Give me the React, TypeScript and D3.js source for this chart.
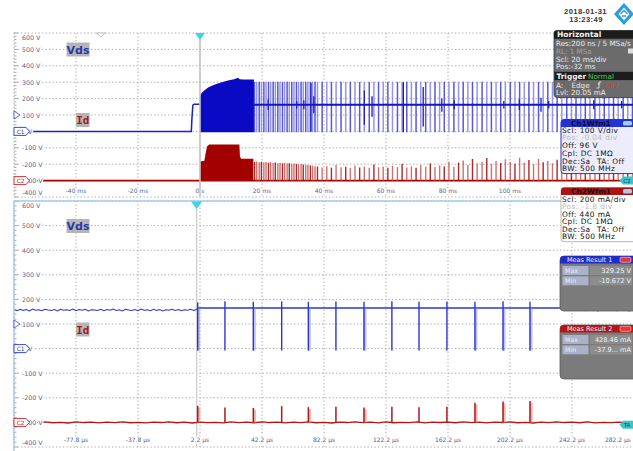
import React from 'react';
import * as d3 from 'd3';

// ---------------- data ----------------
const voltTicks = [600, 500, 400, 300, 200, 100, 0, -100, -200, -300, -400];
const voltLabels = ['600 V', '500 V', '400 V', '300 V', '200 V', '100 V', '0 V', '-100 V', '-200 V', '-300 V', '-400 V'];
const topTimeTicks = [-60, -40, -20, 0, 20, 40, 60, 80, 100, 120, 140];
const topTimeLabels = ['', '-40 ms', '-20 ms', '0 s', '20 ms', '40 ms', '60 ms', '80 ms', '100 ms', '', ''];
const botTimeTicks = [-117.8, -77.8, -37.8, 2.2, 42.2, 82.2, 122.2, 162.2, 202.2, 242.2, 282.2];
const botTimeLabels = ['', '-77.8 µs', '-37.8 µs', '2.2 µs', '42.2 µs', '82.2 µs', '122.2 µs', '162.2 µs', '202.2 µs', '242.2 µs', '282.2 µs'];

// top panel (ms), Vds in V
const vdsPreT = [-60, -2.8, -2.6, -2.3, -1.9, 0];
const vdsPreV = [0, 0, 80, 160, 166, 166];
const vdsEnvT = [0, 0.3, 1, 2, 2.6, 4, 5.5, 7, 9, 11, 12.3, 12.8, 14, 17.4];
const vdsEnvTop = [213, 228, 243, 258, 268, 280, 290, 300, 310, 318, 327, 318, 317, 316];
const vdsEnvBottom = -5;
const burstVdsTop = 302;
const burstVdsBottom = -5;
const vdsMidLevel = 163;
const burstT = [
  17.6, 18.3, 19.1, 19.8, 20.6, 21.3, 22.1, 22.8, 23.6, 24.3, 25.1, 25.8, 26.6, 27.3, 28.1, 28.8, 29.6, 30.3, 31.1, 31.8, 32.6, 33.3, 34.1, 34.8, 35.6, 36.3, 37.1, 37.9,
  39.4, 40.9, 42.4, 43.9, 45.5, 47.0, 48.5, 50.0, 51.5, 53.0,
  54.6, 56.1, 57.6, 59.1, 60.6, 62.1, 63.7, 65.2, 66.7, 68.2,
  69.7, 71.2, 72.8, 74.3, 75.8, 77.3, 78.8, 80.3, 81.9, 83.4,
  84.9, 86.4, 87.9, 89.4, 91.0, 92.5, 94.0, 95.5, 97.0, 98.5,
  100.1, 101.6, 103.1, 104.6, 106.1, 107.6, 109.2, 110.7, 112.2, 113.7,
  115.2, 116.7, 118.3, 119.8, 121.3, 122.8, 124.3, 125.8, 127.4, 128.9,
  130.4, 131.9, 133.4, 134.9, 136.5, 138.0, 139.5,
];
// top Id (mA)
const idEnvT = [0, 0.05, 1.4, 1.8, 2.3, 3.0, 12.7, 12.9, 13.3, 17.2];
const idEnvTop = [0, 236, 240, 330, 420, 440, 440, 290, 265, 265];
const burstId = [
  228, 232, 224, 230, 221, 227, 218, 225, 216, 222, 213, 219, 210, 215, 208, 212, 205, 210, 204, 199, 203, 196, 193, 189, 185, 180, 176, 172,
  160, 175, 158, 190, 162, 170, 155, 185, 160, 168,
  158, 195, 162, 172, 156, 180, 165, 205, 160, 175,
  158, 190, 170, 210, 165, 185, 172, 230, 168, 220,
  245, 190, 265, 210, 230, 275, 200, 240, 215, 260,
  230, 205, 280, 220, 250, 200, 265, 225, 240, 210,
  255, 200, 230, 215, 245, 205, 225, 195, 235, 210,
  220, 200, 240, 210, 225, 205, 215,
];
const darkT = [22.0, 31.2, 33.5, 35.8, 36.7, 53.0, 55.5, 65.6, 72.0, 78.0, 82.0, 98.0, 103.0, 110.0, 112.5, 127.0, 136.0];
const darkLo = [130, 140, 135, 0, 110, 40, 90, -5, 30, 120, 135, 140, 130, 120, 140, 135, 140];
const darkHi = [195, 185, 190, 295, 215, 250, 215, 300, 270, 200, 190, 185, 195, 205, 185, 190, 185];

// bottom panel (µs)
const vdsNoiseT0 = -117.8;
const vdsNoiseDt = 2;
const vdsPreNoise = [
  158, 154, 160, 155, 159, 153, 161, 156, 158, 154,
  160, 157, 155, 159, 153, 160, 156, 158, 155, 161,
  154, 159, 156, 160, 153, 158, 157, 155, 160, 154,
  159, 156, 161, 155, 158, 153, 160, 157, 155, 159,
  154, 161, 156, 158, 154, 160, 155, 159, 153, 158,
  156, 160, 155, 159, 154, 158, 156, 160, 155, 160,
];
const vdsPostLevel = 165;
const vdsPostEnd = 245;
const vdsTail = [160, 156, 159, 154, 160, 155, 158, 153, 159, 156, 161, 155, 158, 154, 160, 156, 159, 153, 158, 156];
const spikeT = [0.7, 18.3, 36.6, 54.9, 72.1, 89.9, 108.0, 126.0, 143.5, 161.5, 179.6, 197.7, 215.1];
const spikeHi = [188, 192, 190, 192, 190, 191, 190, 192, 190, 191, 190, 192, 190];
const spikeLow = -8;
const spikeId = [135, 122, 118, 132, 124, 127, 122, 128, 124, 127, 160, 170, 175];
const spikeShade = [1, 0, 1, 0, 1, 0, 1, 0, 0, 0, 1, 1, 1];
const idNoiseT0 = -117.8;
const idNoiseDt = 5;
const idNoise = [
  2, -4, 3, -2, 5, -3, 1, -5, 4, -1,
  3, -4, 2, -2, 5, -3, 0, -4, 3, -1,
  4, -3, 2, -5, 3, -2, 1, -4, 4, -2,
  3, -3, 5, -1, 2, -4, 3, -2, 4, -3,
  1, -5, 3, -1, 4, -2, 2, -4, 5, -3,
  1, -2, 4, -4, 2, -1, 3, -3, 5, -2,
  2, -4, 3, -1, 4, -3, 1, -5, 3, -2,
  4, -1, 2, -3, 5, -4, 1, -2, 3, -3,
  2,
];

// info panels
const horizLines = ['Res:200 ns / 5 MSa/s', 'RL: 1 MSa', 'Scl: 20 ms/div', 'Pos:-32 ms'];
const ch1Lines = ['Scl: 100 V/div', 'Pos: -0.04 div', 'Off: 96 V', 'Cpl: DC 1MΩ', 'Dec:Sa', 'BW: 500 MHz'];
const ch2Lines = ['Scl: 200 mA/div', 'Pos: -1.8 div', 'Off: 440 mA', 'Cpl: DC 1MΩ', 'Dec:Sa', 'BW: 500 MHz'];
const meas1 = [['Max', '329.25 V'], ['Min', '-10.672 V']];
const meas2 = [['Max', '428.46 mA'], ['Min', '-37.9... mA']];

const FONT = "'DejaVu Sans', Verdana, sans-serif";
const idV = (mA: number) => -300 + mA / 2; // Ch2: 200 mA/div, zero at -3 div

export default function App() {
  const xT = d3.scaleLinear().domain([-60, 140]).range([14, 634]);
  const yT = d3.scaleLinear().domain([-400, 600]).range([197, 33]);
  const xB = d3.scaleLinear().domain([-117.8, 282.2]).range([14, 634]);
  const yB = d3.scaleLinear().domain([-400, 600]).range([447, 201]);

  const lineT = d3.line<[number, number]>().x(d => xT(d[0])).y(d => yT(d[1]));
  const lineB = d3.line<[number, number]>().x(d => xB(d[0])).y(d => yB(d[1]));

  const vdsPre = lineT(vdsPreT.map((t, i) => [t, vdsPreV[i]] as [number, number]))!;
  const vdsEnv = d3.area<number>()
    .x((_, i) => xT(vdsEnvT[i]))
    .y0(yT(vdsEnvBottom))
    .y1(d => yT(d))(vdsEnvTop)!;
  const idEnv = d3.area<number>()
    .x((_, i) => xT(idEnvT[i]))
    .y0(yT(idV(0)))
    .y1(d => yT(idV(d)))(idEnvTop)!;

  const botPre = lineB(vdsPreNoise.map((v, i) => [vdsNoiseT0 + i * vdsNoiseDt, v] as [number, number]))!;
  const botTail = lineB(vdsTail.map((v, i) => [vdsPostEnd + i * 2, v] as [number, number]))!;
  const botIdLine = lineB(idNoise.map((v, i) => [idNoiseT0 + i * idNoiseDt, idV(v)] as [number, number]))!;

  const gridColor = '#a8a8a8';
  const labelColor = '#56618f';

  const grid = (
    xs: d3.ScaleLinear<number, number>, ys: d3.ScaleLinear<number, number>, ticks: number[], key: string,
  ) => {
    const out: React.ReactNode[] = [];
    voltTicks.forEach(v => out.push(
      <line key={key + 'h' + v} x1={14} x2={634} y1={ys(v)} y2={ys(v)} stroke={gridColor} strokeWidth={1} strokeDasharray="1.3 2.2" />,
    ));
    ticks.forEach(t => out.push(
      <line key={key + 'v' + t} x1={xs(t)} x2={xs(t)} y1={ys(600)} y2={ys(-400)} stroke={gridColor} strokeWidth={1} strokeDasharray="1.3 2.2" />,
    ));
    for (let k = 0; k <= 50; k++) {
      const yy = ys(-400 + k * 20);
      out.push(<line key={key + 'm' + k} x1={14} x2={k % 5 === 0 ? 18 : 16.5} y1={yy} y2={yy} stroke="#9a9a9a" strokeWidth={0.8} />);
    }
    return out;
  };

  const yLabels = (ys: d3.ScaleLinear<number, number>, topY: number, botY: number, key: string) =>
    voltTicks.map((v, i) => (
      <text key={key + 'yl' + v} x={22} y={i === 0 ? topY : i === voltTicks.length - 1 ? botY : ys(v)}
        dominantBaseline="central" fontSize={6.3} fill={labelColor}
        stroke="#fff" strokeWidth={2.5} paintOrder="stroke">{voltLabels[i]}</text>
    ));

  const xLabels = (xs: d3.ScaleLinear<number, number>, ticks: number[], labels: string[], yy: number, key: string) =>
    ticks.map((t, i) => labels[i] ? (
      <text key={key + 'xl' + i} x={i === ticks.length - 1 ? 631 : xs(t)} y={yy}
        textAnchor={i === ticks.length - 1 ? 'end' : 'middle'} dominantBaseline="central"
        fontSize={6} fill={labelColor} stroke="#fff" strokeWidth={2.5} paintOrder="stroke">{labels[i]}</text>
    ) : null);

  const chMarker = (y: number, label: string, color: string, key: string) => (
    <g key={key}>
      <path d={`M14,${y - 4} h12 l3.5,4 l-3.5,4 h-12 z`} fill="#fff" stroke={color} strokeWidth={0.9} />
      <text x={20.5} y={y + 0.3} textAnchor="middle" dominantBaseline="central" fontSize={5.8} fill={color}>{label}</text>
    </g>
  );

  const trigLevelMarker = (y: number, key: string) => (
    <path key={key} d={`M14,${y - 4} l6,4 l-6,4 z`} fill="#fff" stroke="#3344cc" strokeWidth={0.8} />
  );

  const rightBadge = (y: number, label: string, key: string) => (
    <g key={key}>
      <path d={`M634,${y - 4} h-11 l-3.5,4 l3.5,4 h11 z`} fill="#3cc4c8" />
      <text x={627} y={y + 0.3} textAnchor="middle" dominantBaseline="central" fontSize={5.5} fill="#0b4c55">{label}</text>
    </g>
  );

  const nameTag = (x: number, y: number, w: number, h: number, text: string, color: string, mono: boolean, key: string) => (
    <g key={key}>
      <rect x={x} y={y} width={w} height={h} fill="#b5b5b5" />
      <text x={x + w / 2} y={y + h / 2 + 0.5} textAnchor="middle" dominantBaseline="central" fontSize={11}
        fontWeight="bold" fill={color} fontFamily={mono ? "'DejaVu Sans Mono', monospace" : FONT}>{text}</text>
    </g>
  );

  const wfmBox = (y0: number, title: string, headColor: string, bodyFill: string, border: string, lines: string[], ys: number[], key: string) => (
    <g key={key}>
      <rect x={561} y={y0} width={80} height={ys[ys.length - 1] - y0 + 5} rx={3} fill={bodyFill} stroke={border} strokeWidth={1} />
      <path d={`M561,${y0 + 7.5} v-4.5 a3,3 0 0 1 3,-3 h77 v7.5 z`} fill={headColor} />
      <text x={591} y={y0 + 3.9} textAnchor="middle" dominantBaseline="central" fontSize={7.4} fontWeight="bold" fill="#1a1010">{title}</text>
      <rect x={623} y={y0 + 1.5} width={9} height={4.5} rx={1.5} fill="#a8cdf2" />
      {lines.map((l, i) => (
        <text key={i} x={562} y={ys[i]} dominantBaseline="central" fontSize={7.4} letterSpacing={0.4}
          fill={i === 1 ? '#b8b8b8' : '#111'}>{l}</text>
      ))}
      <text x={597} y={ys[4]} dominantBaseline="central" fontSize={7.4} letterSpacing={0.4} fill="#111">TA: Off</text>
    </g>
  );

  const measBox = (y0: number, y1: number, title: string, headColor: string, rows: string[][], key: string) => (
    <g key={key}>
      <rect x={560} y={y0} width={80} height={y1 - y0} rx={4} fill="#7b7b7b" stroke="#5a5a5a" strokeWidth={0.8} />
      <path d={`M560,${y0 + 7.5} v-3.5 a4,4 0 0 1 4,-4 h76 v7.5 z`} fill={headColor} />
      <text x={567} y={y0 + 4} dominantBaseline="central" fontSize={6.5} fill="#f4f4ff">{title}</text>
      <rect x={620} y={y0 + 1.3} width={11} height={5} rx={1.2} fill="#e33" stroke="#fff" strokeWidth={0.5} />
      {rows.map((r, i) => {
        const ry = y0 + 10 + i * 10.3;
        return (
          <g key={i}>
            <rect x={562.5} y={ry} width={26} height={9} fill="#aab2ca" />
            <rect x={590} y={ry} width={42} height={9} fill="#8c8c8c" />
            <text x={565} y={ry + 4.6} dominantBaseline="central" fontSize={6.3} fill="#e8ecf8">{r[0]}</text>
            <text x={631} y={ry + 4.6} textAnchor="end" dominantBaseline="central" fontSize={6.6} fill="#f2f2f2">{r[1]}</text>
          </g>
        );
      })}
    </g>
  );

  return (
    <svg width={633} height={451} style={{ position: 'absolute', left: 0, top: 0, background: '#fff' }} fontFamily={FONT}>
      <defs>
        <clipPath id="clipTop"><rect x={14} y={33} width={620} height={164} /></clipPath>
        <clipPath id="clipBot"><rect x={14} y={201} width={620} height={246} /></clipPath>
      </defs>
      <rect x={0} y={0} width={633} height={451} fill="#fff" />

      {/* header: date & logo */}
      <text x={585.5} y={11.3} textAnchor="middle" dominantBaseline="central" fontSize={7.6} fontWeight="bold" fill="#333" fontFamily="'Liberation Sans', Arial, sans-serif" letterSpacing={0.4}>2018-01-31</text>
      <text x={586} y={19} textAnchor="middle" dominantBaseline="central" fontSize={7.6} fontWeight="bold" fill="#333" fontFamily="'Liberation Sans', Arial, sans-serif" letterSpacing={0.4}>13:23:49</text>
      <polygon points="624,3 634,14 624,25 614,14" fill="#2a9be2" />
      <polygon points="624,7.5 629.5,14 624,20.5 618.5,14" fill="#fff" />
      <path d="M620.5,14 L624,10.5 L627.5,14 M622,16 L626,16" stroke="#2a9be2" strokeWidth={1.3} fill="none" />

      {/* ---------- top panel ---------- */}
      {grid(xT, yT, topTimeTicks, 't')}
      <g clipPath="url(#clipTop)">
        {/* Vds */}
        <path d={vdsPre} fill="none" stroke="#1a22c8" strokeWidth={1.5} />
        {burstT.map((t, i) => (
          <line key={'bv' + i} x1={xT(t)} x2={xT(t)} y1={yT(burstVdsTop)} y2={yT(burstVdsBottom)}
            stroke={i % 2 === 0 ? '#4646da' : '#8a8aea'} strokeWidth={1.5} opacity={0.9} />
        ))}
        <path d={vdsEnv} fill="#0a0ac4" />
        <line x1={xT(17.4)} x2={xT(140)} y1={yT(vdsMidLevel)} y2={yT(vdsMidLevel)} stroke="#1515c0" strokeWidth={2} />
        {darkT.map((t, i) => (
          <line key={'dk' + i} x1={xT(t)} x2={xT(t)} y1={yT(darkHi[i])} y2={yT(darkLo[i])} stroke="#1a1ab8" strokeWidth={1.3} />
        ))}
        {/* Id */}
        <line x1={xT(-60)} x2={xT(140)} y1={yT(idV(0))} y2={yT(idV(0))} stroke="#a80000" strokeWidth={1.6} />
        {burstT.map((t, i) => (
          <line key={'bi' + i} x1={xT(t)} x2={xT(t)} y1={yT(idV(burstId[i]))} y2={yT(idV(0))}
            stroke={i % 3 === 0 ? '#a81010' : '#c86262'} strokeWidth={1.4} opacity={0.9} />
        ))}
        <path d={idEnv} fill="#a30000" />
      </g>
      {yLabels(yT, 37, 192, 't')}
      {xLabels(xT, topTimeTicks, topTimeLabels, 190, 't')}
      <line x1={xT(0)} x2={xT(0)} y1={33} y2={197} stroke="#c4c4c4" strokeWidth={1.6} />
      <polygon points={`${xT(-32) - 4.5},33 ${xT(-32) + 4.5},33 ${xT(-32)},37`} fill="#fff" stroke="#b0b0b0" strokeWidth={0.8} />
      <polygon points={`${xT(0) - 5},33 ${xT(0) + 5},33 ${xT(0)},40`} fill="#38d6e6" />
      {trigLevelMarker(yT(100), 'tl1')}
      {chMarker(yT(0), 'C1', '#2a36c8', 'c1t')}
      {chMarker(yT(-300), 'C2', '#c42020', 'c2t')}
      {rightBadge(yT(-300), 'C2', 'rbt')}
      {nameTag(66.5, 42.5, 23, 14, 'Vds', '#2a38a8', false, 'vdsT')}
      {nameTag(76, 113, 13.5, 14, 'Id', '#a81818', true, 'idT')}

      {/* ---------- bottom panel ---------- */}
      {grid(xB, yB, botTimeTicks, 'b')}
      <g clipPath="url(#clipBot)">
        <line x1={xB(0)} x2={xB(0)} y1={201} y2={447} stroke="#cfcfcf" strokeWidth={1.4} />
        {/* Vds */}
        <path d={botPre} fill="none" stroke="#2a36d0" strokeWidth={1.1} />
        <line x1={xB(0.2)} x2={xB(vdsPostEnd)} y1={yB(vdsPostLevel)} y2={yB(vdsPostLevel)} stroke="#2a36d0" strokeWidth={1.3} />
        <path d={botTail} fill="none" stroke="#2a36d0" strokeWidth={1.1} />
        {spikeT.map((t, i) => (
          <g key={'sv' + i}>
            {spikeShade[i] ? <rect x={xB(t) - 0.5} y={yB(vdsPostLevel)} width={3} height={yB(spikeLow) - yB(vdsPostLevel)} fill="#8c92ea" opacity={0.55} /> : null}
            <line x1={xB(t)} x2={xB(t)} y1={yB(spikeHi[i])} y2={yB(spikeLow)} stroke="#2a36d0" strokeWidth={1.4} />
          </g>
        ))}
        {/* Id */}
        <path d={botIdLine} fill="none" stroke="#b01818" strokeWidth={1.3} />
        {spikeT.map((t, i) => (
          <g key={'si' + i}>
            {spikeShade[i] ? <rect x={xB(t) - 0.3} y={yB(idV(spikeId[i] - 15))} width={3} height={yB(idV(0)) - yB(idV(spikeId[i] - 15))} fill="#e49a9a" opacity={0.7} /> : null}
            <line x1={xB(t)} x2={xB(t)} y1={yB(idV(spikeId[i]))} y2={yB(idV(0))} stroke="#b01818" strokeWidth={1.5} />
          </g>
        ))}
      </g>
      {yLabels(yB, 205.6, 442.2, 'b')}
      {xLabels(xB, botTimeTicks, botTimeLabels, 439.5, 'b')}
      <line x1={14} x2={634} y1={201} y2={201} stroke="#a6cdf0" strokeWidth={1.5} />
      <line x1={14} x2={14} y1={201} y2={451} stroke="#a6cdf0" strokeWidth={1.5} />
      <polygon points={`${xB(0) - 5.5},201.5 ${xB(0) + 5.5},201.5 ${xB(0)},209`} fill="#38d6e6" />
      {trigLevelMarker(yB(100), 'tl2')}
      {chMarker(yB(0), 'C1', '#2a36c8', 'c1b')}
      {chMarker(yB(-300), 'C2', '#c42020', 'c2b')}
      {rightBadge(yB(-310), 'TA', 'rbb')}
      {nameTag(66.5, 219, 23, 14, 'Vds', '#2a38a8', false, 'vdsB')}
      {nameTag(76, 322.5, 13.5, 14, 'Id', '#a81818', true, 'idB')}

      {/* ---------- info boxes ---------- */}
      <g>
        <rect x={554} y={30.5} width={82} height={67} rx={3} fill="#6b6b6b" stroke="#3a3a3a" strokeWidth={0.8} />
        <path d="M554,38.8 v-5.3 a3,3 0 0 1 3,-3 h79 v8.3 z" fill="#1c1c1c" />
        <text x={557} y={34.8} dominantBaseline="central" fontSize={7.6} fontWeight="bold" fill="#f4f4f4">Horizontal</text>
        {horizLines.map((l, i) => (
          <text key={'hz' + i} x={556} y={[43.3, 51.5, 59.3, 66.8][i]} dominantBaseline="central" fontSize={7.2}
            fill={i === 1 ? '#a2a2a2' : '#ececec'}>{l}</text>
        ))}
        <rect x={628} y={48.5} width={5} height={5} fill="#ddd" />
        <rect x={554.5} y={71.8} width={80} height={8.3} fill="#1c1c1c" />
        <text x={556.5} y={76} dominantBaseline="central" fontSize={7.4} fontWeight="bold" fill="#f4f4f4">Trigger</text>
        <text x={588} y={76} dominantBaseline="central" fontSize={7.2} fill="#4cd04c">Normal</text>
        <text x={556} y={85.3} dominantBaseline="central" fontSize={7.2} fill="#ececec">A:</text>
        <text x={571.5} y={85.3} dominantBaseline="central" fontSize={7.2} fill="#ececec">Edge</text>
        <path d="M596.5,88 h2.5 v-6 h2.5 M598.2,84.5 l0.8,-1.3 l0.8,1.3" stroke="#ececec" strokeWidth={0.8} fill="none" />
        <text x={604.5} y={85.3} dominantBaseline="central" fontSize={7.2} fill="#e03a3a">Ch2</text>
        <text x={556} y={92.8} dominantBaseline="central" fontSize={7.2} fill="#ececec">Lvl: 20.05 mA</text>
      </g>
      {wfmBox(119.5, 'Ch1Wfm1', '#2232d6', '#ececfa', '#2232d6', ch1Lines, [130.2, 137.8, 145.6, 153.2, 161, 168.6], 'w1')}
      {wfmBox(187.5, 'Ch2Wfm1', '#b01212', '#ffffff', '#b8b8b8', ch2Lines, [199.2, 206.8, 214.2, 221.7, 229.2, 236.7], 'w2')}
      {measBox(256, 311, 'Meas Result 1', '#1e2cc8', meas1, 'm1')}
      {measBox(325, 379, 'Meas Result 2', '#b01818', meas2, 'm2')}
    </svg>
  );
}
